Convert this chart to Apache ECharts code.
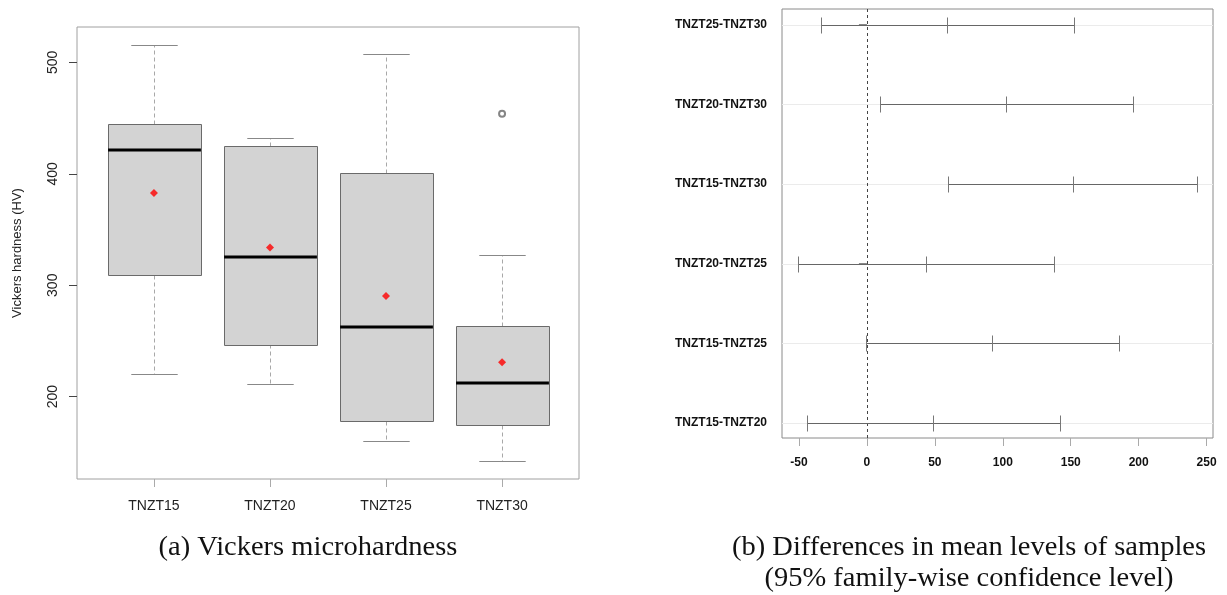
<!DOCTYPE html>
<html>
<head>
<meta charset="utf-8">
<script src="https://cdn.jsdelivr.net/npm/echarts@6/dist/echarts.min.js"></script>
<style>
html,body{margin:0;padding:0;background:#fff;}
#chart{width:1227px;height:595px;}
</style>
</head>
<body>
<div id="chart"></div>
<script>
// ---- Panel (a): Vickers microhardness boxplots ----
const categories = ['TNZT15', 'TNZT20', 'TNZT25', 'TNZT30'];
const whiskerLow  = [220.1, 211.1, 160.2, 142.0];
const quartile1   = [309.3, 247.1, 178.4, 174.6];
const medians     = [421.3, 325.2, 262.6, 212.6];
const quartile3   = [444.9, 425.4, 400.9, 263.5];
const whiskerHigh = [515.9, 432.1, 507.2, 327.3];
const means       = [382.7, 333.8, 290.4, 231.0];
const outlierCategory = ['TNZT30'];
const outlierValues   = [453.9];
const hardnessTicks = [200, 300, 400, 500];

// ---- Panel (b): Tukey HSD differences in means ----
const comparisons = ['TNZT15-TNZT20', 'TNZT15-TNZT25', 'TNZT20-TNZT25', 'TNZT15-TNZT30', 'TNZT20-TNZT30', 'TNZT25-TNZT30'];
const diffEstimate = [48.5, 92.0, 43.5, 151.4, 102.6, 59.0];
const diffLower    = [-44.3, -0.4, -50.8, 59.5, 9.3, -33.8];
const diffUpper    = [142.0, 185.3, 137.7, 242.8, 195.5, 152.2];
const diffTicks = [-50, 0, 50, 100, 150, 200, 250];
const referenceLine = [0];

const captionA = '(a) Vickers microhardness';
const captionB1 = '(b) Differences in mean levels of samples';
const captionB2 = '(95% family-wise confidence level)';

// axis extents (R default 4% expansion)
const bxMin = 0.337, bxMax = 4.663, byMin = 126.1, byMax = 531.8;
const dxMin = -62.5, dxMax = 254.7, dyMin = 0.812, dyMax = 6.197;

const SANS = '"Liberation Sans", Arial, Helvetica, sans-serif';
const SERIF = '"Liberation Serif", "DejaVu Serif", serif';

const chart = echarts.init(document.getElementById('chart'), null, {renderer: 'canvas'});

function renderBox(params, api) {
  const x = api.value(0);
  const lo = api.value(1), q1 = api.value(2), md = api.value(3), q3 = api.value(4), hi = api.value(5);
  const boxHalf = api.size([0.4, 0])[0];
  const capHalf = api.size([0.2, 0])[0];
  const pLo = api.coord([x, lo]), pQ1 = api.coord([x, q1]), pMd = api.coord([x, md]);
  const pQ3 = api.coord([x, q3]), pHi = api.coord([x, hi]);
  const cx = Math.round(pMd[0]) + 0.5;
  const r = v => Math.round(v) + 0.5;
  const dash = {stroke: '#a8a8a8', lineWidth: 1, lineDash: [4, 3]};
  return {
    type: 'group',
    children: [
      {type: 'line', shape: {x1: cx, y1: r(pQ3[1]), x2: cx, y2: r(pHi[1])}, style: dash},
      {type: 'line', shape: {x1: cx, y1: r(pQ1[1]), x2: cx, y2: r(pLo[1])}, style: dash},
      {type: 'line', shape: {x1: cx - capHalf, y1: r(pHi[1]), x2: cx + capHalf, y2: r(pHi[1])}, style: {stroke: '#888', lineWidth: 1}},
      {type: 'line', shape: {x1: cx - capHalf, y1: r(pLo[1]), x2: cx + capHalf, y2: r(pLo[1])}, style: {stroke: '#888', lineWidth: 1}},
      {type: 'rect', shape: {x: r(cx - boxHalf), y: r(pQ3[1]), width: Math.round(2 * boxHalf), height: Math.round(pQ1[1] - pQ3[1])},
        style: {fill: '#d3d3d3', stroke: '#6a6a6a', lineWidth: 1}},
      {type: 'line', shape: {x1: cx - boxHalf, y1: Math.round(pMd[1]), x2: cx + boxHalf, y2: Math.round(pMd[1])}, style: {stroke: '#000', lineWidth: 3}}
    ]
  };
}

function renderGridRow(params, api) {
  const row = api.value(0);
  const p0 = api.coord([dxMin, row]), p1 = api.coord([dxMax, row]);
  const y = Math.round(p0[1]) + 0.5;
  return {type: 'line', shape: {x1: p0[0], y1: y, x2: p1[0], y2: y}, style: {stroke: '#ebebeb', lineWidth: 1}};
}

function renderZeroLine(params, api) {
  const v = api.value(0);
  const p0 = api.coord([v, dyMin]), p1 = api.coord([v, dyMax]);
  const x = Math.round(p0[0]) + 0.5;
  return {type: 'line', shape: {x1: x, y1: p0[1], x2: x, y2: p1[1]}, style: {stroke: '#444', lineWidth: 1, lineDash: [3, 3]}};
}

function renderCI(params, api) {
  const row = api.value(0);
  const pL = api.coord([api.value(1), row]), pE = api.coord([api.value(2), row]), pU = api.coord([api.value(3), row]);
  const y = Math.round(pL[1]) + 0.5;
  const r = v => Math.round(v) + 0.5;
  const tick = p => ({type: 'line', shape: {x1: r(p[0]), y1: y - 8, x2: r(p[0]), y2: y + 8}, style: {stroke: '#777', lineWidth: 1}});
  return {
    type: 'group',
    children: [
      {type: 'line', shape: {x1: r(pL[0]), y1: y, x2: r(pU[0]), y2: y}, style: {stroke: '#666', lineWidth: 1}},
      tick(pL), tick(pE), tick(pU)
    ]
  };
}

const option = {
  animation: false,
  backgroundColor: '#fff',
  grid: [
    {left: 77, top: 27, width: 502, height: 452, show: true, borderColor: '#a0a0a0', borderWidth: 1, containLabel: false},
    {left: 782, top: 9, width: 431, height: 429, show: true, borderColor: '#8a8a8a', borderWidth: 1, containLabel: false}
  ],
  xAxis: [
    {
      type: 'value', gridIndex: 0, min: bxMin, max: bxMax,
      axisLine: {show: false},
      axisTick: {show: true, length: 8, lineStyle: {color: '#aaa'}, customValues: [1, 2, 3, 4]},
      axisLabel: {customValues: [1, 2, 3, 4], formatter: v => categories[Math.round(v) - 1], fontFamily: SANS, fontSize: 14, color: '#222', margin: 20},
      splitLine: {show: false}
    },
    {
      type: 'value', gridIndex: 1, min: dxMin, max: dxMax,
      axisLine: {show: false},
      axisTick: {show: true, length: 8, lineStyle: {color: '#aaa'}, customValues: diffTicks},
      axisLabel: {customValues: diffTicks, formatter: v => String(v), fontFamily: SANS, fontSize: 12, fontWeight: 'bold', color: '#111', margin: 19},
      splitLine: {show: false}
    }
  ],
  yAxis: [
    {
      type: 'value', gridIndex: 0, min: byMin, max: byMax,
      name: 'Vickers hardness (HV)', nameLocation: 'middle', nameRotate: 90, nameGap: 53,
      nameTextStyle: {fontFamily: SANS, fontSize: 13, color: '#222'},
      axisLine: {show: false},
      axisTick: {show: true, length: 8, lineStyle: {color: '#444'}, customValues: hardnessTicks},
      axisLabel: {customValues: hardnessTicks, rotate: 90, fontFamily: SANS, fontSize: 14, color: '#222', margin: 17},
      splitLine: {show: false}
    },
    {
      type: 'value', gridIndex: 1, min: dyMin, max: dyMax,
      axisLine: {show: false},
      axisTick: {show: true, length: 8, lineStyle: {color: '#888'}, customValues: [1, 2, 3, 4, 5, 6]},
      axisLabel: {customValues: [1, 2, 3, 4, 5, 6], formatter: v => comparisons[Math.round(v) - 1], fontFamily: SANS, fontSize: 12, fontWeight: 'bold', color: '#111', margin: 15},
      splitLine: {show: false}
    }
  ],
  series: [
    {
      type: 'custom', xAxisIndex: 0, yAxisIndex: 0, renderItem: renderBox,
      data: categories.map((c, i) => [i + 1, whiskerLow[i], quartile1[i], medians[i], quartile3[i], whiskerHigh[i]]),
      z: 2
    },
    {
      type: 'scatter', xAxisIndex: 0, yAxisIndex: 0, symbol: 'diamond', symbolSize: 8,
      itemStyle: {color: '#ff0000'},
      data: means.map((m, i) => [i + 1, m]), z: 5
    },
    {
      type: 'scatter', xAxisIndex: 0, yAxisIndex: 0, symbol: 'emptyCircle', symbolSize: 6,
      itemStyle: {color: '#666', borderWidth: 0.7},
      data: outlierValues.map((v, i) => [categories.indexOf(outlierCategory[i]) + 1, v]), z: 5
    },
    {
      type: 'custom', xAxisIndex: 1, yAxisIndex: 1, renderItem: renderGridRow,
      data: comparisons.map((c, i) => [i + 1]), z: 1
    },
    {
      type: 'custom', xAxisIndex: 1, yAxisIndex: 1, renderItem: renderZeroLine,
      data: referenceLine.map(v => [v]), z: 2
    },
    {
      type: 'custom', xAxisIndex: 1, yAxisIndex: 1, renderItem: renderCI,
      data: comparisons.map((c, i) => [i + 1, diffLower[i], diffEstimate[i], diffUpper[i]]), z: 3
    }
  ],
  graphic: [
    {type: 'text', x: 308, y: 548, scaleX: 1.055, style: {text: captionA, font: '27px ' + SERIF, fill: '#111', align: 'center', verticalAlign: 'middle'}},
    {type: 'text', x: 969, y: 548, scaleX: 1.055, style: {text: captionB1, font: '27px ' + SERIF, fill: '#111', align: 'center', verticalAlign: 'middle'}},
    {type: 'text', x: 969, y: 579, scaleX: 1.055, style: {text: captionB2, font: '27px ' + SERIF, fill: '#111', align: 'center', verticalAlign: 'middle'}}
  ]
};
chart.setOption(option);
</script>
</body>
</html>
